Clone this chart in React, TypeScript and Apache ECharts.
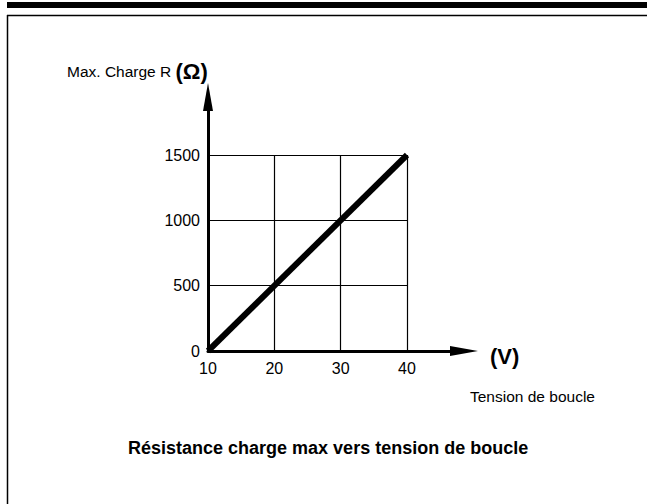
import React, { useEffect, useRef } from "react";
import * as echarts from "echarts";

const voltage = [10, 40];
const maxLoad = [0, 1500];
const xTickValues = [10, 20, 30, 40];
const yTickValues = [0, 500, 1000, 1500];
const yAxisTitle = "Max. Charge R ";
const yAxisUnit = "(Ω)";
const xAxisUnit = "(V)";
const xAxisTitle = "Tension de boucle";
const chartTitle = "Résistance charge max vers tension de boucle";

const FONT = "'Liberation Sans', Arial, Helvetica, sans-serif";

export default function App() {
  const ref = useRef<HTMLDivElement>(null);
  useEffect(() => {
    const chart = echarts.init(ref.current!, null, { renderer: "svg" });
    const xStep = xTickValues[1] - xTickValues[0];
    const yStep = yTickValues[1] - yTickValues[0];
    chart.setOption({
      animation: false,
      backgroundColor: "#ffffff",
      title: {
        text: chartTitle,
        left: 123,
        top: 434,
        textStyle: { fontFamily: FONT, fontSize: 18, fontWeight: "bold", color: "#000" },
      },
      grid: [
        { left: 208, top: 155, width: 199, height: 196, containLabel: false, outerBoundsMode: "none" },
        { left: 208, top: 97, width: 256, height: 254, containLabel: false, outerBoundsMode: "none" },
      ],
      xAxis: [
        {
          gridIndex: 0,
          type: "value",
          min: xTickValues[0],
          max: xTickValues[xTickValues.length - 1],
          interval: xStep,
          axisLine: { show: false },
          axisTick: { show: false },
          splitLine: { show: true, lineStyle: { color: "#000", width: 1.2 } },
          axisLabel: { margin: 9, fontSize: 16, color: "#000", fontFamily: FONT, formatter: (v: number) => String(v) },
        },
        {
          gridIndex: 1,
          type: "value",
          min: 0,
          max: 1,
          axisLine: {
            show: true,
            onZero: false,
            symbol: ["none", "triangle"],
            symbolSize: [10, 28],
            lineStyle: { color: "#000", width: 3 },
          },
          axisTick: { show: false },
          axisLabel: { show: false },
          splitLine: { show: false },
        },
      ],
      yAxis: [
        {
          gridIndex: 0,
          type: "value",
          min: yTickValues[0],
          max: yTickValues[yTickValues.length - 1],
          interval: yStep,
          axisLine: { show: false },
          axisTick: { show: false },
          splitLine: { show: true, lineStyle: { color: "#000", width: 1.2 } },
          axisLabel: { margin: 8, fontSize: 16, color: "#000", fontFamily: FONT, formatter: (v: number) => String(v) },
        },
        {
          gridIndex: 1,
          type: "value",
          min: 0,
          max: 1,
          axisLine: {
            show: true,
            onZero: false,
            symbol: ["none", "triangle"],
            symbolSize: [10, 28],
            lineStyle: { color: "#000", width: 3 },
          },
          axisTick: { show: false },
          axisLabel: { show: false },
          splitLine: { show: false },
        },
      ],
      series: [
        {
          type: "line",
          xAxisIndex: 0,
          yAxisIndex: 0,
          data: voltage.map((v, i) => [v, maxLoad[i]]),
          showSymbol: false,
          symbol: "none",
          clip: false,
          lineStyle: { color: "#000", width: 6 },
          z: 5,
        },
      ],
      graphic: [
        {
          type: "rect",
          shape: { x: 7, y: 2, width: 645, height: 6 },
          style: { fill: "#000" },
          silent: true,
        },
        {
          type: "line",
          shape: { x1: 7, y1: 15.5, x2: 660, y2: 15.5 },
          style: { stroke: "#000", lineWidth: 1.5 },
          silent: true,
        },
        {
          type: "line",
          shape: { x1: 7.5, y1: 15, x2: 7.5, y2: 520 },
          style: { stroke: "#000", lineWidth: 1.5 },
          silent: true,
        },
        {
          type: "text",
          x: 67,
          y: 71,
          style: {
            text: `{a|${yAxisTitle}}{b|${yAxisUnit}}`,
            rich: {
              a: { fontFamily: FONT, fontSize: 15.5, color: "#000" },
              b: { fontFamily: FONT, fontSize: 22, fontWeight: "bold", color: "#000" },
            },
            textAlign: "left",
            textVerticalAlign: "middle",
            align: "left",
            verticalAlign: "middle",
          },
        },
        {
          type: "text",
          x: 490,
          y: 356,
          style: {
            text: xAxisUnit,
            fontFamily: FONT,
            fontSize: 22,
            fontWeight: "bold",
            fill: "#000",
            textAlign: "left",
            textVerticalAlign: "middle",
            align: "left",
            verticalAlign: "middle",
          },
        },
        {
          type: "text",
          x: 470,
          y: 396,
          style: {
            text: xAxisTitle,
            fontFamily: FONT,
            fontSize: 15.5,
            fill: "#000",
            textAlign: "left",
            textVerticalAlign: "middle",
            align: "left",
            verticalAlign: "middle",
          },
        },
      ],
    });
    return () => chart.dispose();
  }, []);
  return (
    <div
      ref={ref}
      style={{ position: "fixed", left: 0, top: 0, width: 647, height: 504, background: "#fff" }}
    />
  );
}
